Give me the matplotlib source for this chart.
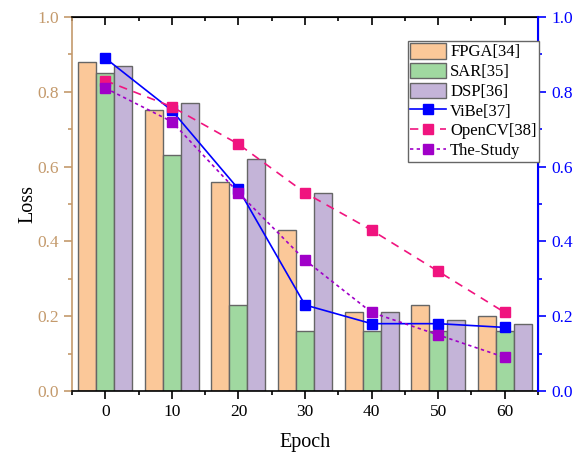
import matplotlib
matplotlib.use("Agg")
import matplotlib.pyplot as plt
import numpy as np
from matplotlib.ticker import MultipleLocator

plt.rcParams['font.family'] = ['Liberation Serif', 'DejaVu Serif']
plt.rcParams['mathtext.fontset'] = 'stix'

epochs = [0, 10, 20, 30, 40, 50, 60]
fpga = [0.88, 0.75, 0.56, 0.43, 0.21, 0.23, 0.20]
sar = [0.85, 0.63, 0.23, 0.16, 0.16, 0.16, 0.16]
dsp = [0.87, 0.77, 0.62, 0.53, 0.21, 0.19, 0.18]
vibe = [0.89, 0.75, 0.54, 0.23, 0.18, 0.18, 0.17]
opencv = [0.83, 0.76, 0.66, 0.53, 0.43, 0.32, 0.21]
study = [0.81, 0.72, 0.53, 0.35, 0.21, 0.15, 0.09]

tan = '#C49A6C'
fig = plt.figure(figsize=(5.79, 4.53), dpi=100)
ax = fig.add_axes([0.1244, 0.1369, 0.9292 - 0.1244, 0.9625 - 0.1369])
x = np.array(epochs, dtype=float)
w = 2.7
edge = '#666666'
b1 = ax.bar(x - w, fpga, w, color='#FBC899', edgecolor=edge, linewidth=1, label='FPGA[34]')
b2 = ax.bar(x, sar, w, color='#A0D8A0', edgecolor=edge, linewidth=1, label='SAR[35]')
b3 = ax.bar(x + w, dsp, w, color='#C4B4D8', edgecolor=edge, linewidth=1, label='DSP[36]')

ax.set_xlim(-5, 65)
ax.set_ylim(0, 1.0)
ax.xaxis.set_major_locator(MultipleLocator(10))
ax.xaxis.set_minor_locator(MultipleLocator(5))
ax.yaxis.set_major_locator(MultipleLocator(0.2))
ax.yaxis.set_minor_locator(MultipleLocator(0.1))
ax.yaxis.set_major_formatter(matplotlib.ticker.FormatStrFormatter('%.1f'))
ax.tick_params(axis='x', which='major', direction='out', length=6, width=1.2, labelsize=12.5, top=False)
ax.tick_params(axis='x', which='minor', direction='out', length=3, width=1.2, top=False)
ax.tick_params(axis='y', which='major', colors=tan, length=6, width=1.2, labelsize=12.5)
ax.tick_params(axis='y', which='minor', colors=tan, length=3, width=1.2)
ax.spines['left'].set_color(tan)
ax.spines['left'].set_linewidth(1.2)
ax.spines['bottom'].set_linewidth(1.2)
ax.spines['top'].set_linewidth(1.2)
ax.set_xlabel('Epoch', fontsize=14.5, labelpad=9)
ax.set_ylabel('Loss', fontsize=14.5, labelpad=0)

# top ticks (inward)
secx = ax.secondary_xaxis('top')
secx.xaxis.set_major_locator(MultipleLocator(10))
secx.xaxis.set_minor_locator(MultipleLocator(5))
secx.tick_params(axis='x', which='major', direction='in', length=6, width=1.2, labelbottom=False, labeltop=False)
secx.tick_params(axis='x', which='minor', direction='in', length=3, width=1.2)

ax2 = ax.twinx()
ax2.set_ylim(0, 1.0)
ax2.yaxis.set_major_locator(MultipleLocator(0.2))
ax2.yaxis.set_minor_locator(MultipleLocator(0.1))
ax2.yaxis.set_major_formatter(matplotlib.ticker.FormatStrFormatter('%.1f'))
ax2.tick_params(axis='y', which='major', colors='#0000FF', length=6, width=1.2, labelsize=12.5)
ax2.tick_params(axis='y', which='minor', colors='#0000FF', length=3, width=1.2)
ax2.spines['right'].set_color('#0000FF')
ax2.spines['right'].set_linewidth(1.5)
ax2.spines['left'].set_visible(False)
ax2.spines['top'].set_visible(False)
ax2.spines['bottom'].set_visible(False)

l1, = ax2.plot(x, vibe, '-', color='#0000FF', marker='s', markersize=6.5, linewidth=1.2, label='ViBe[37]')
l2, = ax2.plot(x, opencv, color='#F0147F', linestyle=(0, (5, 4)), marker='s', markersize=6.5, linewidth=1.2, label='OpenCV[38]')
l3, = ax2.plot(x, study, color='#A000C8', linestyle=(0, (2, 2)), marker='s', markersize=6.5, linewidth=1.2, label='The-Study')

leg = ax2.legend(handles=[b1, b2, b3, l1, l2, l3], loc='upper left',
                 bbox_to_anchor=(0.72, 0.937), fontsize=12, frameon=True, fancybox=False,
                 edgecolor='#666666', framealpha=1, borderpad=0.15, labelspacing=0.14,
                 handlelength=2.15, handleheight=1.05, handletextpad=0.25, borderaxespad=0)
leg.get_frame().set_linewidth(1.0)

fig.savefig('out.png', dpi=100)
